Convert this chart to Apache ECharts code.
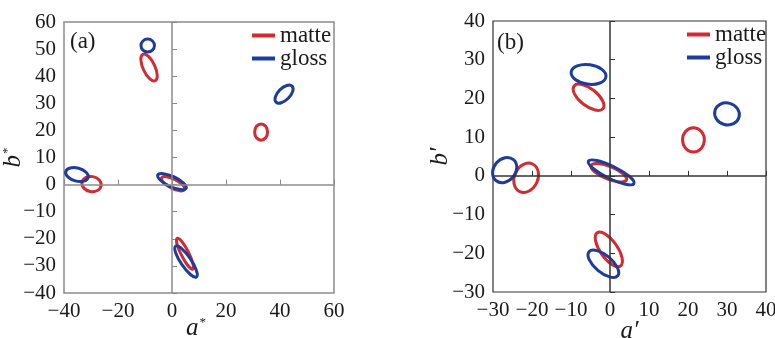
<!DOCTYPE html>
<html>
<head>
<meta charset="utf-8">
<title>matte / gloss ellipses</title>
<script src="https://cdn.jsdelivr.net/npm/echarts@6/dist/echarts.min.js"></script>
<style>
  html, body { margin: 0; padding: 0; background: #fff; }
  #chart { width: 775px; height: 338px; }
</style>
</head>
<body>
<div id="chart"></div>
<script>
// axis ranges: [min, max, interval]
const xRangeA = [-40, 60, 20];
const yRangeA = [-40, 60, 10];
const xRangeB = [-30, 40, 10];
const yRangeB = [-30, 40, 10];

// ellipses: [centre x, centre y, semi-major, semi-minor, angle in degrees]
const matteA = [
  [-8.5, 43.2, 5.4, 2.2, -65],
  [33.0, 19.4, 2.4, 3.0, 0],
  [-29.8, 0.2, 3.6, 2.8, -10],
  [0.4, 0.3, 4.8, 1.7, -27],
  [4.8, -25.5, 6.4, 1.4, -63],
];
const glossA = [
  [-9.0, 51.3, 2.5, 2.4, 0],
  [41.5, 33.4, 4.2, 2.2, 45],
  [-35.2, 3.7, 4.3, 2.4, -15],
  [0.0, 1.1, 5.8, 1.9, -25],
  [5.2, -28.4, 6.9, 1.9, -56],
];
const matteB = [
  [-5.5, 20.3, 4.7, 2.2, -38],
  [21.4, 9.3, 2.8, 3.1, 0],
  [-21.5, -0.5, 3.9, 3.0, 65],
  [-0.3, 0.8, 4.9, 1.6, -22],
  [-0.3, -19.0, 5.2, 2.2, -55],
];
const glossB = [
  [-5.5, 26.2, 4.5, 2.5, -8],
  [30.0, 16.0, 3.2, 2.8, -15],
  [-27.0, 1.5, 3.5, 2.8, 50],
  [0.3, 0.9, 6.5, 1.6, -26],
  [-1.7, -22.7, 4.8, 2.2, -40],
];

const RED = '#d22b31';
const BLUE = '#1d3c9b';
const SERIF = '"Liberation Serif", "DejaVu Serif", serif';

const chart = echarts.init(document.getElementById('chart'));

function ellipseSeries(name, data, color, idx) {
  return {
    name: name,
    type: 'custom',
    xAxisIndex: idx,
    yAxisIndex: idx,
    z: 3,
    itemStyle: { color: color },
    data: data,
    renderItem: function (params, api) {
      const c = api.coord([api.value(0), api.value(1)]);
      const unit = api.size([1, 0])[0];
      return {
        type: 'ellipse',
        x: c[0],
        y: c[1],
        rotation: api.value(4) * Math.PI / 180,
        shape: { cx: 0, cy: 0, rx: api.value(2) * unit, ry: api.value(3) * unit },
        style: { fill: null, stroke: color, lineWidth: 3 },
      };
    },
  };
}

function zeroLines(idx, color) {
  return {
    type: 'line',
    xAxisIndex: idx,
    yAxisIndex: idx,
    data: [],
    z: 1,
    markLine: {
      silent: true,
      symbol: 'none',
      label: { show: false },
      lineStyle: { color: color, width: 1.5, type: 'solid' },
      data: [{ xAxis: 0 }, { yAxis: 0 }],
    },
  };
}

function makeAxis(range, color, nameStr, nameGap, namePad) {
  return {
    type: 'value',
    min: range[0],
    max: range[1],
    interval: range[2],
    name: nameStr,
    nameLocation: 'middle',
    nameGap: nameGap,
    nameMoveOverlap: false,
    nameTextStyle: {
      padding: namePad || 0,
      rich: {
        i: { fontFamily: SERIF, fontStyle: 'italic', fontSize: 25, color: '#1a1a1a' },
        s: { fontFamily: SERIF, fontSize: 13, color: '#1a1a1a', verticalAlign: 'top', padding: [0, 0, 8, 1] },
      },
    },
    axisLine: { show: false },
    splitLine: { show: false },
    axisTick: { show: true, inside: true, length: 5, lineStyle: { color: color, width: 1 } },
    axisLabel: { fontFamily: SERIF, fontSize: 21, color: '#1a1a1a', margin: 8,
      formatter: function (v) { return v < 0 ? '\u2212' + Math.abs(v) : String(v); } },
  };
}

const legendText = { fontFamily: SERIF, fontSize: 23, color: '#1a1a1a' };

chart.setOption({
  backgroundColor: '#fff',
  animation: false,
  grid: [
    { left: 64, top: 22, width: 270, height: 271, show: true, borderColor: '#8c8c8c', borderWidth: 1.5, outerBoundsMode: 'none' },
    { left: 493, top: 21, width: 273, height: 271, show: true, borderColor: '#333', borderWidth: 1.2, outerBoundsMode: 'none' },
  ],
  xAxis: [
    Object.assign(makeAxis(xRangeA, '#8c8c8c', '{i|a}{s|*}', 23, [0, 6, 0, 0]), { gridIndex: 0 }),
    Object.assign(makeAxis(xRangeB, '#333', '{i|a\u2032}', 27), { gridIndex: 1 }),
  ],
  yAxis: [
    Object.assign(makeAxis(yRangeA, '#8c8c8c', '{i|b}{s|*}', 38), { gridIndex: 0 }),
    Object.assign(makeAxis(yRangeB, '#333', '{i|b\u2032}', 40), { gridIndex: 1 }),
  ],
  legend: [
    {
      left: 247, top: 19, orient: 'vertical', itemGap: 0,
      itemWidth: 23, itemHeight: 4, textStyle: legendText,
      data: [{ name: 'matte', icon: 'rect' }, { name: 'gloss', icon: 'rect' }],
      selectedMode: false,
    },
    {
      left: 682, top: 18, orient: 'vertical', itemGap: 0,
      itemWidth: 23, itemHeight: 4, textStyle: legendText,
      data: [{ name: 'matte', icon: 'rect' }, { name: 'gloss', icon: 'rect' }],
      selectedMode: false,
    },
  ],
  graphic: [
    { type: 'text', left: 70, top: 30, style: { text: '(a)', font: '23px ' + SERIF, fill: '#1a1a1a' } },
    { type: 'text', left: 497, top: 31, style: { text: '(b)', font: '23px ' + SERIF, fill: '#1a1a1a' } },
  ],
  series: [
    zeroLines(0, '#8c8c8c'),
    zeroLines(1, '#333'),
    ellipseSeries('matte', matteA, RED, 0),
    ellipseSeries('gloss', glossA, BLUE, 0),
    ellipseSeries('matte', matteB, RED, 1),
    ellipseSeries('gloss', glossB, BLUE, 1),
  ],
});
</script>
</body>
</html>
